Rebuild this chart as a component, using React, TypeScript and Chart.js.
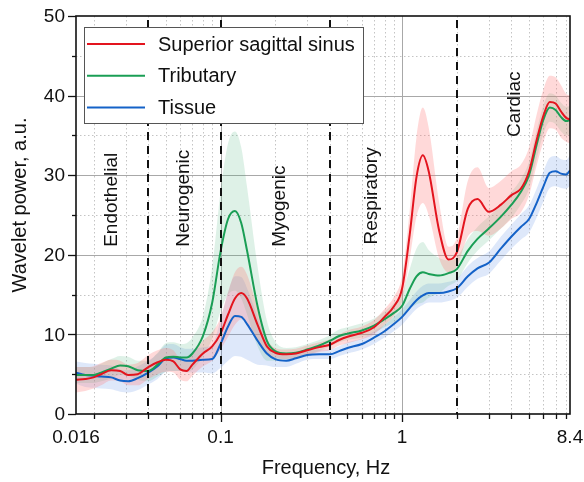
import React, { useEffect, useRef } from "react";
import { Chart, registerables } from "chart.js";

Chart.register(...registerables);

// ---- data ----
const FREQ = [
  0.016, 0.018, 0.02, 0.022, 0.025, 0.028, 0.031, 0.035, 0.04, 0.045, 0.05, 0.055, 0.06, 0.065, 0.07, 0.08, 0.09,
  0.1, 0.11, 0.12, 0.13, 0.14, 0.16, 0.18, 0.2, 0.23, 0.26, 0.3, 0.35, 0.4, 0.45, 0.5, 0.6, 0.7, 0.8, 0.9,
  1.0, 1.1, 1.2, 1.3, 1.4, 1.6, 1.8, 2.0, 2.3, 2.6, 3.0, 3.5, 4.0, 4.5, 5.0, 5.5, 6.0, 6.5, 7.0, 7.5, 8.0, 8.4,
];

const SSS = [
  4.3, 4.4, 4.6, 5.0, 5.5, 5.4, 4.9, 5.0, 5.9, 6.5, 6.8, 6.6, 5.6, 5.4, 6.2, 7.6, 8.5,
  10.1, 12.5, 14.5, 15.2, 14.5, 11.2, 8.5, 7.7, 7.5, 7.6, 8.0, 8.4, 8.7, 9.3, 9.7, 10.2, 10.9, 12.2, 13.5,
  15.8, 22.5, 29.8, 32.5, 30.5, 23.0, 19.4, 20.3, 25.8, 27.0, 25.4, 26.3, 27.5, 28.3, 30.5, 34.4, 37.5, 39.2, 39.0, 38.0, 37.2, 37.0,
];
const SSS_SD = [
  1.6, 1.5, 1.4, 1.4, 1.3, 1.3, 1.3, 1.4, 1.5, 1.5, 1.5, 1.4, 1.3, 1.3, 1.4, 1.6, 1.8,
  2.0, 2.8, 3.3, 3.3, 3.0, 2.0, 1.0, 0.6, 0.6, 0.6, 0.6, 0.6, 0.7, 0.7, 0.8, 0.8, 0.9, 1.0, 1.2,
  1.6, 3.0, 5.0, 6.0, 5.5, 3.5, 1.6, 1.8, 3.5, 4.0, 3.0, 3.0, 3.0, 3.0, 3.0, 3.2, 3.3, 3.3, 3.3, 3.3, 3.0, 3.0,
];

const TRIB = [
  4.9, 4.9, 4.9, 5.2, 5.7, 6.1, 6.0, 5.5, 5.4, 6.2, 7.1, 7.2, 7.1, 7.1, 7.6, 9.8, 14.0,
  20.4, 24.5, 25.5, 24.0, 20.5, 13.5, 9.2, 7.9, 7.6, 7.7, 8.1, 8.6, 9.2, 9.8, 10.1, 10.5, 11.1, 11.9, 12.7,
  13.6, 15.7, 17.3, 17.8, 17.6, 17.4, 17.7, 18.2, 20.5, 22.0, 23.3, 24.8, 26.3, 27.9, 30.0, 33.8, 37.0, 38.5, 38.2, 37.3, 36.8, 36.9,
];
const TRIB_SD = [
  1.0, 1.0, 1.0, 1.1, 1.2, 1.2, 1.2, 1.2, 1.3, 1.5, 1.8, 1.8, 1.7, 1.8, 2.0, 2.5, 4.5,
  7.5, 9.5, 10.0, 9.5, 8.0, 5.0, 2.5, 1.2, 0.7, 0.7, 0.7, 0.7, 0.7, 0.8, 0.8, 0.9, 0.9, 1.0, 1.2,
  1.5, 2.5, 3.5, 3.8, 3.0, 2.2, 1.6, 1.5, 1.5, 1.5, 1.5, 1.5, 1.6, 1.6, 1.7, 1.8, 1.8, 1.8, 1.8, 1.8, 1.8, 1.8,
];

const TISSUE = [
  5.2, 4.9, 4.8, 4.7, 4.6, 4.2, 4.1, 4.5, 5.2, 6.0, 7.0, 7.1, 6.9, 6.7, 6.7, 6.8, 6.9,
  8.8, 11.0, 12.3, 12.2, 11.3, 9.2, 7.6, 6.9, 6.7, 7.0, 7.4, 7.5, 7.5, 7.9, 8.3, 8.8, 9.6, 10.4, 11.3,
  12.2, 13.3, 14.3, 14.9, 15.2, 15.2, 15.4, 15.8, 17.3, 18.3, 19.0, 20.8, 22.3, 23.5, 24.5, 26.5, 28.6, 30.3, 30.5, 30.2, 30.1, 30.6,
];
const TISSUE_SD = [
  1.4, 1.5, 1.5, 1.5, 1.5, 1.4, 1.4, 1.5, 1.5, 1.6, 1.7, 1.7, 1.5, 1.5, 1.5, 1.6, 1.8,
  3.0, 4.3, 5.0, 5.0, 4.5, 3.0, 1.5, 1.0, 0.8, 0.7, 0.6, 0.6, 0.6, 0.6, 0.7, 0.7, 0.8, 0.8, 0.9,
  1.0, 1.0, 1.1, 1.2, 1.2, 1.2, 1.2, 1.2, 1.3, 1.3, 1.4, 1.5, 1.5, 1.6, 1.7, 1.8, 1.9, 1.9, 1.9, 1.8, 1.8, 1.9,
];

const SERIES_NAMES = ["Superior sagittal sinus", "Tributary", "Tissue"];
const BOUNDARIES = [0.04, 0.1, 0.4, 2];
const REGION_LABELS = ["Endothelial", "Neurogenic", "Myogenic", "Respiratory", "Cardiac"];
const REGION_LABEL_X = [0.0252, 0.063, 0.212, 0.682, 4.18];
const REGION_LABEL_Y = [21, 21, 21, 21.3, 34.8];
const X_TICK_LABELS = [0.016, 0.1, 1, 8.4];
const X_MINOR = [0.02, 0.03, 0.04, 0.05, 0.06, 0.07, 0.08, 0.09, 0.2, 0.3, 0.4, 0.5, 0.6, 0.7, 0.8, 0.9, 2, 3, 4, 5, 6, 7, 8];
const X_MAJOR = [0.1, 1];
const Y_MAJOR = [0, 10, 20, 30, 40, 50];
const Y_MINOR = [5, 15, 25, 35, 45];

// ---- styles ----
const FONT = '"Liberation Sans", Arial, Helvetica, sans-serif';
const LINE_COLORS = ["#e3141e", "#1a9e55", "#1462c8"];
const BAND_COLORS = ["rgba(255,120,120,0.28)", "rgba(70,180,120,0.18)", "rgba(90,140,230,0.20)"];

const decor = {
  id: "decor",
  beforeDatasetsDraw(chart: any) {
    const ctx = chart.ctx;
    const xs = chart.scales.x;
    const ys = chart.scales.y;
    const { left, right, top, bottom } = chart.chartArea;
    ctx.save();
    ctx.lineWidth = 1;
    ctx.strokeStyle = "#c4c4c4";
    ctx.setLineDash([1.5, 2.5]);
    for (const f of X_MINOR) {
      const px = Math.round(xs.getPixelForValue(f)) + 0.5;
      ctx.beginPath(); ctx.moveTo(px, top); ctx.lineTo(px, bottom); ctx.stroke();
    }
    for (const v of Y_MINOR) {
      const py = Math.round(ys.getPixelForValue(v)) + 0.5;
      ctx.beginPath(); ctx.moveTo(left, py); ctx.lineTo(right, py); ctx.stroke();
    }
    ctx.setLineDash([]);
    ctx.strokeStyle = "#a8a8a8";
    for (const f of X_MAJOR) {
      const px = Math.round(xs.getPixelForValue(f)) + 0.5;
      ctx.beginPath(); ctx.moveTo(px, top); ctx.lineTo(px, bottom); ctx.stroke();
    }
    for (const v of Y_MAJOR.slice(1, -1)) {
      const py = Math.round(ys.getPixelForValue(v)) + 0.5;
      ctx.beginPath(); ctx.moveTo(left, py); ctx.lineTo(right, py); ctx.stroke();
    }
    ctx.restore();
  },
  afterDatasetsDraw(chart: any) {
    const ctx = chart.ctx;
    const xs = chart.scales.x;
    const ys = chart.scales.y;
    const { left, right, top, bottom } = chart.chartArea;
    ctx.save();
    // boundaries
    ctx.strokeStyle = "#111";
    ctx.lineWidth = 2;
    ctx.setLineDash([8, 6]);
    for (const f of BOUNDARIES) {
      const px = Math.round(xs.getPixelForValue(f));
      ctx.beginPath(); ctx.moveTo(px, top + 4); ctx.lineTo(px, bottom); ctx.stroke();
    }
    ctx.setLineDash([]);
    // region labels
    ctx.fillStyle = "#111";
    ctx.font = `19px ${FONT}`;
    ctx.textAlign = "left";
    ctx.textBaseline = "middle";
    REGION_LABELS.forEach((t, i) => {
      const px = xs.getPixelForValue(REGION_LABEL_X[i]);
      const py = ys.getPixelForValue(REGION_LABEL_Y[i]);
      ctx.save();
      ctx.translate(px, py);
      ctx.rotate(-Math.PI / 2);
      ctx.fillText(t, 0, 0);
      ctx.restore();
    });
    // frame
    ctx.strokeStyle = "#111";
    ctx.lineWidth = 1.6;
    ctx.strokeRect(left, top, right - left, bottom - top);
    // ticks
    ctx.lineWidth = 1.3;
    for (const v of Y_MAJOR) {
      const py = Math.round(ys.getPixelForValue(v)) + 0.5;
      ctx.beginPath(); ctx.moveTo(left - 8, py); ctx.lineTo(left, py); ctx.stroke();
    }
    for (const v of Y_MINOR) {
      const py = Math.round(ys.getPixelForValue(v)) + 0.5;
      ctx.beginPath(); ctx.moveTo(left - 4, py); ctx.lineTo(left, py); ctx.stroke();
    }
    for (const f of X_MAJOR) {
      const px = Math.round(xs.getPixelForValue(f)) + 0.5;
      ctx.beginPath(); ctx.moveTo(px, bottom); ctx.lineTo(px, bottom + 8); ctx.stroke();
    }
    for (const f of X_MINOR) {
      const px = Math.round(xs.getPixelForValue(f)) + 0.5;
      ctx.beginPath(); ctx.moveTo(px, bottom); ctx.lineTo(px, bottom + 5); ctx.stroke();
    }
    // tick labels
    ctx.fillStyle = "#111";
    ctx.font = `19px ${FONT}`;
    ctx.textBaseline = "middle";
    ctx.textAlign = "right";
    for (const v of Y_MAJOR) {
      ctx.fillText(String(v), left - 11, ys.getPixelForValue(v) + 1);
    }
    ctx.textAlign = "center";
    for (const f of X_TICK_LABELS) {
      ctx.fillText(String(f), xs.getPixelForValue(f), bottom + 24);
    }
    // legend
    const lx = 84, ly = 27, lw = 279, lh = 96;
    ctx.fillStyle = "#fff";
    ctx.fillRect(lx, ly, lw, lh);
    ctx.strokeStyle = "#555";
    ctx.lineWidth = 1;
    ctx.strokeRect(lx + 0.5, ly + 0.5, lw, lh);
    ctx.font = `20px ${FONT}`;
    ctx.textBaseline = "middle";
    ctx.textAlign = "left";
    SERIES_NAMES.forEach((name, i) => {
      const yy = ly + 17 + i * 31.7;
      ctx.strokeStyle = LINE_COLORS[i];
      ctx.lineWidth = 2;
      ctx.beginPath(); ctx.moveTo(lx + 3, yy); ctx.lineTo(lx + 61, yy); ctx.stroke();
      ctx.fillStyle = "#111";
      ctx.fillText(name, lx + 74, yy + 1);
    });
    // axis titles
    ctx.fillStyle = "#111";
    ctx.font = `20px ${FONT}`;
    ctx.textAlign = "center";
    ctx.fillText("Frequency, Hz", (left + right) / 2 + 3, 468);
    ctx.save();
    ctx.translate(20, 205);
    ctx.rotate(-Math.PI / 2);
    ctx.fillText("Wavelet power, a.u.", 0, 0);
    ctx.restore();
    ctx.restore();
  },
};

export default function App() {
  const ref = useRef<HTMLCanvasElement | null>(null);
  useEffect(() => {
    if (!ref.current) return;
    const means = [SSS, TRIB, TISSUE];
    const sds = [SSS_SD, TRIB_SD, TISSUE_SD];
    const datasets: any[] = [];
    means.forEach((m, s) => {
      const lowerIdx = datasets.length;
      datasets.push({
        label: SERIES_NAMES[s] + " lower",
        data: FREQ.map((f, i) => ({ x: f, y: m[i] - sds[s][i] })),
        borderWidth: 0,
        pointRadius: 0,
        fill: false,
        cubicInterpolationMode: "monotone",
        order: 10,
      });
      datasets.push({
        label: SERIES_NAMES[s] + " upper",
        data: FREQ.map((f, i) => ({ x: f, y: m[i] + sds[s][i] })),
        borderWidth: 0,
        pointRadius: 0,
        fill: lowerIdx,
        backgroundColor: BAND_COLORS[s],
        cubicInterpolationMode: "monotone",
        order: 10,
      });
    });
    means.forEach((m, s) => {
      datasets.push({
        label: SERIES_NAMES[s],
        data: FREQ.map((f, i) => ({ x: f, y: m[i] })),
        borderColor: LINE_COLORS[s],
        borderWidth: 2,
        pointRadius: 0,
        fill: false,
        cubicInterpolationMode: "monotone",
        order: s,
      });
    });

    const chart = new Chart(ref.current, {
      type: "line",
      data: { datasets },
      plugins: [decor],
      options: {
        animation: false,
        responsive: true,
        maintainAspectRatio: false,
        layout: { padding: { left: 0, right: 14, top: 16, bottom: 0 } },
        plugins: { legend: { display: false }, tooltip: { enabled: false } },
        scales: {
          x: {
            type: "logarithmic",
            min: 0.016,
            max: 8.4,
            grid: { display: false },
            border: { display: false },
            ticks: { display: false },
            afterFit: (scale: any) => {
              scale.height = 68;
            },
          },
          y: {
            type: "linear",
            min: 0,
            max: 50,
            grid: { display: false },
            border: { display: false },
            ticks: { display: false },
            afterFit: (scale: any) => {
              scale.width = 76;
            },
          },
        },
      },
    });
    return () => chart.destroy();
  }, []);

  return (
    <div style={{ position: "absolute", left: 0, top: 0, width: 584, height: 482, background: "#fff" }}>
      <canvas ref={ref} />
    </div>
  );
}
